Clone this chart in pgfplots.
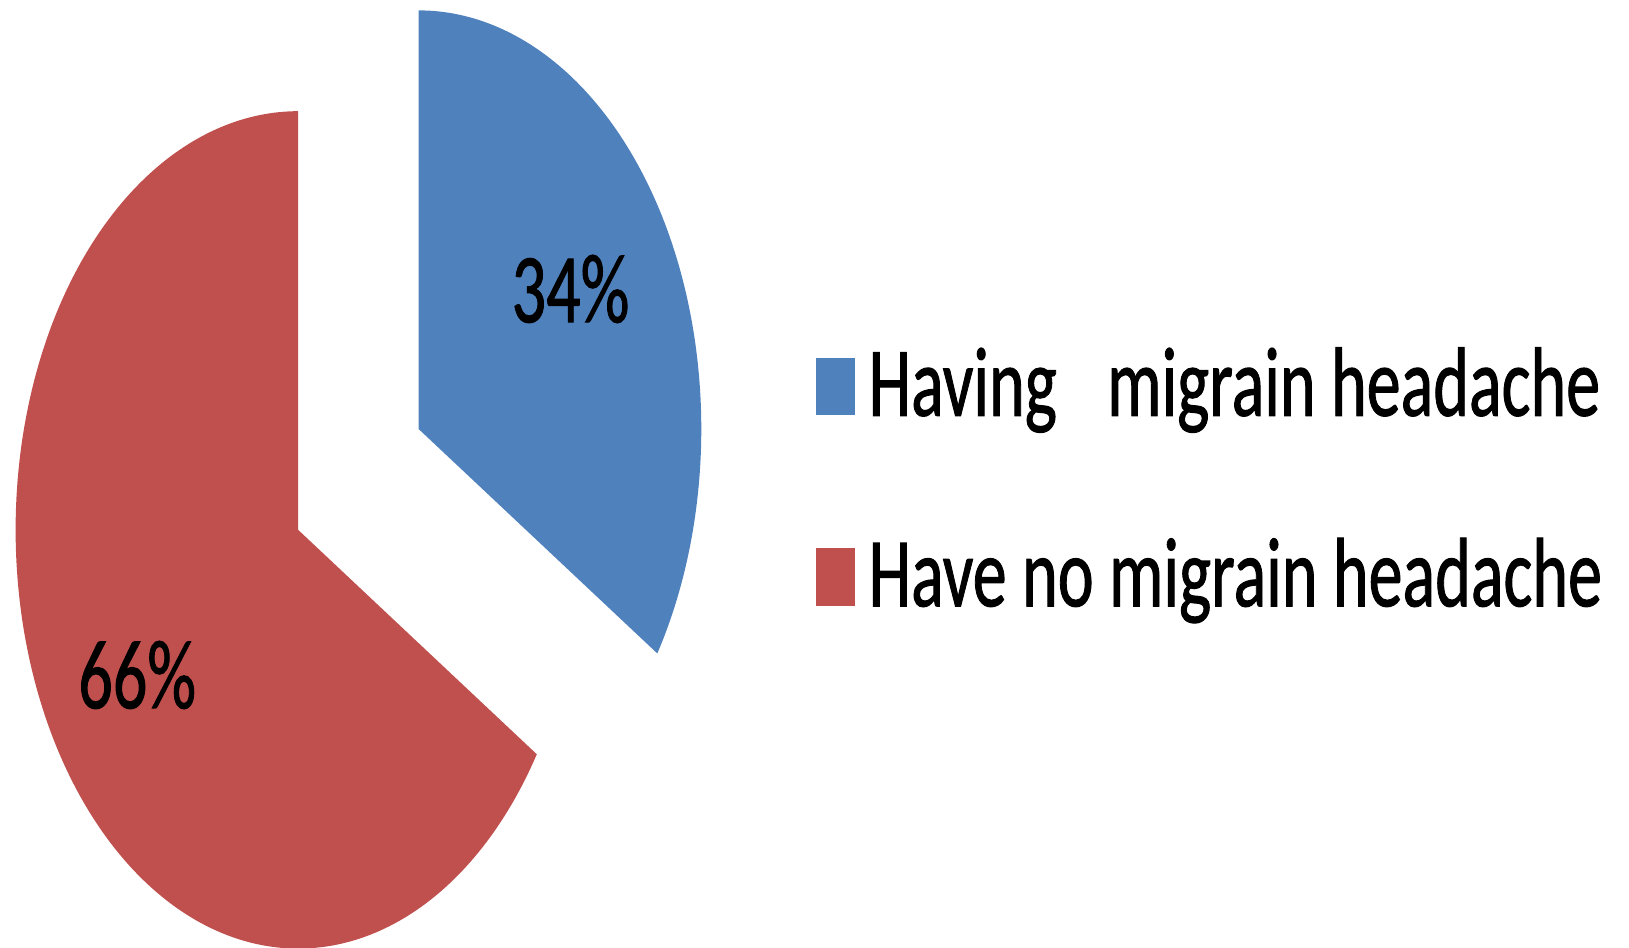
\documentclass[border=0pt]{standalone}
\usepackage{pgfplots}
\pgfplotsset{compat=1.18}
\usepackage{graphicx}
\usepackage{fontspec}
\setmainfont{Carlito}[RawFeature={embolden=1.2}]
\definecolor{blueC}{HTML}{4F81BD}
\definecolor{redC}{HTML}{C0504D}
% data: share of respondents (%)
\def\valA{34}% Having migrain headache
\def\valB{66}% Have no migrain headache
\newcommand{\sq}[1]{\scalebox{0.692}[1]{#1}}
\begin{document}
\begin{tikzpicture}
\pgfmathsetmacro\angA{90-3.6*\valA}
\pgfmathsetmacro\angB{\angA-3.6*\valB}
\begin{axis}[
  scale only axis, width=16.29cm, height=9.47cm,
  xmin=0, xmax=1629, ymin=0, ymax=947,
  hide axis, clip=true,
  font=\fontsize{28}{32}\selectfont,
  legend cell align=left,
  legend style={at={(axis cs:815.6,594)}, anchor=north west, draw=none, fill=none,
    inner sep=0pt, row sep=1.065cm, column sep=0.14cm,
    nodes={inner sep=0pt, text height=0.62cm, text depth=0.22cm}},
  legend image code/.code={\fill[#1] (0cm,-0.197cm) rectangle (0.384cm,0.378cm);},
]
\coordinate (bl) at (axis cs:0,0);
\coordinate (tr) at (axis cs:1629,947);
\addplot[fill=blueC, draw=none, domain=\angA:90, samples=120, variable=\t]
  ({418.7+282.6*cos(\t)},{517.9+418.7*sin(\t)}) -- (axis cs:418.7,517.9) -- cycle;
\addlegendentry{\sq{Having\hspace{0.74em}migrain headache}}
\addplot[fill=redC, draw=none, domain=\angB:\angA, samples=240, variable=\t]
  ({298.2+282.6*cos(\t)},{417.1+418.7*sin(\t)}) -- (axis cs:298.2,417.1) -- cycle;
\addlegendentry{\sq{Have no migrain headache}}
\node at (axis cs:570.5,658) {\sq{\valA\%}};
\node at (axis cs:137.2,272) {\sq{\valB\%}};
\end{axis}
\pgfresetboundingbox
\path[use as bounding box] (bl) rectangle (tr);
\end{tikzpicture}
\end{document}
